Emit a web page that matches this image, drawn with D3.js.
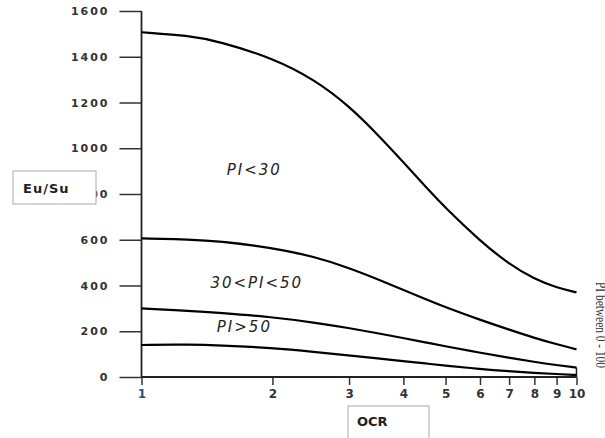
<!DOCTYPE html>
<html>
<head>
    <meta charset="UTF-8">
    <title>Eu/Su - OCR</title>
    <script src="https://cdn.jsdelivr.net/npm/d3@7"></script>
    <style>
        body { margin: 0; background: #fff; }
    </style>
</head>
<body>
<div id="app"></div>
<script>
    // 数据
    var ocr = [1, 1.3, 1.5, 2, 2.5, 3, 3.5, 4, 4.5, 5, 6, 7, 8, 9, 10];
    var piLow  = [1507, 1491, 1468, 1395, 1300, 1185, 1058, 939, 831, 738, 595, 493, 428, 391, 370];
    var piMid  = [606, 601, 594, 565, 526, 477, 427, 381, 340, 305, 250, 207, 171, 143, 121];
    var piHigh = [300, 289, 281, 262, 238, 214, 191, 170, 151, 134, 106, 84, 66, 52, 41];
    var piAll  = [140, 142, 139, 127, 110, 94, 81, 69, 59, 50, 35, 25, 18, 13, 9];
    var yTicks = [0, 200, 400, 600, 800, 1000, 1200, 1400, 1600];
    var xTicks = [1, 2, 3, 4, 5, 6, 7, 8, 9, 10];
    var labels = ['PI<30', '30<PI<50', 'PI>50'];

    var svg = d3.select('#app').append('svg')
        .attr('width', 605)
        .attr('height', 438);

    var x = d3.scaleLog().domain([1, 10]).range([141.5, 576.5]);
    var y = d3.scaleLinear().domain([0, 1600]).range([377, 11]);

    // y轴
    var gy = svg.append('g')
        .attr('transform', 'translate(' + x(1) + ',0)')
        .call(d3.axisLeft(y).tickValues(yTicks).tickFormat(d3.format('d')).tickSize(22).tickPadding(10).tickSizeOuter(0));
    gy.select('.domain').remove();
    gy.selectAll('line').attr('stroke', '#333').attr('stroke-width', 1.5);
    gy.selectAll('text')
        .attr('fill', '#333')
        .style('font-family', 'DejaVu Sans')
        .style('font-size', '11px')
        .style('font-weight', 'bold')
        .style('letter-spacing', '2px');

    // x轴
    var gx = svg.append('g')
        .attr('transform', 'translate(0,' + y(0) + ')')
        .call(d3.axisBottom(x).tickValues(xTicks).tickFormat(d3.format('d')).tickSize(8).tickPadding(4).tickSizeOuter(0));
    gx.select('.domain').remove();
    gx.selectAll('line').attr('stroke', '#333').attr('stroke-width', 1.5);
    gx.selectAll('text')
        .attr('fill', function(d){ return d === 1 ? '#2b4f77' : '#333'; })
        .style('font-family', 'DejaVu Sans')
        .style('font-size', '12px')
        .style('font-weight', 'bold');

    // 轴线
    svg.append('line')
        .attr('x1', x(1)).attr('x2', x(1))
        .attr('y1', y(1600)).attr('y2', y(0))
        .attr('stroke', '#222').attr('stroke-width', 1.8);
    svg.append('line')
        .attr('x1', x(1)).attr('x2', x(10))
        .attr('y1', y(0)).attr('y2', y(0))
        .attr('stroke', '#222').attr('stroke-width', 1.8);
    svg.append('line')
        .attr('x1', x(10)).attr('x2', x(10))
        .attr('y1', y(0)).attr('y2', y(piHigh[piHigh.length - 1]))
        .attr('stroke', '#222').attr('stroke-width', 1.5);

    // 曲线
    var line = d3.line()
        .x(function(d, i){ return x(ocr[i]); })
        .y(function(d){ return y(d); })
        .curve(d3.curveBasis);
    [piLow, piMid, piHigh, piAll].forEach(function(s){
        svg.append('path')
            .attr('d', line(s))
            .attr('fill', 'none')
            .attr('stroke', '#000')
            .attr('stroke-width', 2.2);
    });

    // 曲线标注
    var labelPos = [[1.57, 883], [1.44, 389], [1.49, 197]];
    svg.selectAll('.lbl')
        .data(labels)
        .enter()
        .append('text')
        .attr('class', 'lbl')
        .attr('x', function(d, i){ return x(labelPos[i][0]); })
        .attr('y', function(d, i){ return y(labelPos[i][1]); })
        .attr('fill', '#222')
        .style('font-family', 'DejaVu Sans')
        .style('font-style', 'italic')
        .style('font-size', '15px')
        .style('letter-spacing', '2px')
        .text(function(d){ return d; });

    // Eu/Su 标题框
    svg.append('rect')
        .attr('x', 13).attr('y', 171).attr('width', 83).attr('height', 33)
        .attr('fill', '#fff').attr('stroke', '#aaa');
    svg.append('text')
        .attr('x', 23).attr('y', 193)
        .attr('fill', '#222')
        .style('font-family', 'DejaVu Sans')
        .style('font-size', '13px')
        .style('font-weight', 'bold')
        .style('letter-spacing', '1px')
        .text('Eu/Su');

    // OCR 标题框
    svg.append('rect')
        .attr('x', 348).attr('y', 406).attr('width', 81).attr('height', 40)
        .attr('fill', '#fff').attr('stroke', '#aaa');
    svg.append('text')
        .attr('x', 357).attr('y', 426)
        .attr('fill', '#222')
        .style('font-family', 'DejaVu Sans')
        .style('font-size', '13px')
        .style('font-weight', 'bold')
        .text('OCR');

    // 右侧竖排文字
    svg.append('text')
        .attr('transform', 'translate(596,282) rotate(90)')
        .attr('fill', '#333')
        .attr('textLength', 86)
        .attr('lengthAdjust', 'spacingAndGlyphs')
        .style('font-family', 'Liberation Serif')
        .style('font-size', '14px')
        .text('PI between 0 - 100');
</script>
</body>
</html>
